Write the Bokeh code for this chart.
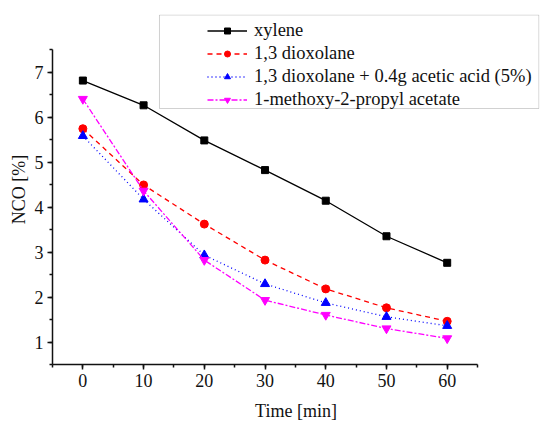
from bokeh.plotting import figure
from bokeh.models import (Range1d, SingleIntervalTicker, Legend, LegendItem, BoxAnnotation)
from bokeh.embed import file_html
from bokeh.resources import INLINE

time = [0, 10, 20, 30, 40, 50, 60]
xylene = [6.81, 6.26, 5.48, 4.82, 4.14, 3.35, 2.76]
dioxolane = [5.74, 4.49, 3.62, 2.82, 2.18, 1.76, 1.46]
dioxolane_acid = [5.58, 4.17, 2.93, 2.29, 1.87, 1.56, 1.36]
mpa = [6.40, 4.36, 2.82, 1.93, 1.60, 1.30, 1.08]
labels = ["xylene", "1,3 dioxolane", "1,3 dioxolane + 0.4g acetic acid (5%)",
          "1-methoxy-2-propyl acetate"]

FONT = "Liberation Serif"

p = figure(width=540, height=424, output_backend="svg", toolbar_location=None,
           x_range=Range1d(-5, 75.2), y_range=Range1d(0.5, 8.278),
           min_border_left=52, min_border_right=1, min_border_top=14, min_border_bottom=60)
p.outline_line_color = None
p.xgrid.visible = False
p.ygrid.visible = False
p.background_fill_color = "white"

p.xaxis.ticker = SingleIntervalTicker(interval=10, num_minor_ticks=2)
p.yaxis.ticker = SingleIntervalTicker(interval=1, num_minor_ticks=2)
p.xaxis.bounds = (-5, 65)
p.yaxis.bounds = (0.5, 7.5)
for ax in (p.xaxis, p.yaxis):
    ax.axis_line_width = 1.5
    ax.axis_line_color = "#111111"
    ax.major_tick_line_color = "#111111"
    ax.minor_tick_line_color = "#111111"
    ax.major_tick_line_width = 1.5
    ax.minor_tick_line_width = 1.5
    ax.major_tick_in = 0
    ax.major_tick_out = 5
    ax.minor_tick_in = 0
    ax.minor_tick_out = 3
    ax.major_label_text_font = FONT
    ax.major_label_text_font_size = "18px"
    ax.major_label_text_color = "#111111"
    ax.axis_label_text_font = FONT
    ax.axis_label_text_font_size = "18px"
    ax.axis_label_text_font_style = "normal"
    ax.axis_label_text_color = "#111111"
p.xaxis.axis_label = "Time [min]"
p.yaxis.axis_label = "NCO [%]"
p.xaxis.major_label_standoff = 4
p.yaxis.major_label_standoff = 4
p.xaxis.axis_label_standoff = 11
p.yaxis.axis_label_standoff = 3

series = [
    (xylene, "black", "solid", "square", 7),
    (dioxolane, "#ff0000", "5 4", "circle", 8),
    (dioxolane_acid, "#0000ff", "1 3", "triangle", 9),
    (mpa, "#ff00ff", "6 2 2 2", "inverted_triangle", 9),
]
items = []
for (vals, col, dash, marker, sz), lab in zip(series, labels):
    l = p.line(time, vals, line_color=col, line_width=1.3, line_dash=dash)
    s = p.scatter(time, vals, marker=marker, size=sz, fill_color=col, line_color=col)
    items.append(LegendItem(label=lab, renderers=[l, s]))

box = BoxAnnotation(left=12.62, right=75.1, top=8.267, bottom=6.189,
                    fill_alpha=0, line_color="#666666", line_width=1)
p.add_layout(box)

legend = Legend(items=items, location=(155, 253), padding=0, margin=0, spacing=0,
                glyph_width=40, glyph_height=15, label_height=23, label_standoff=7,
                border_line_alpha=0, background_fill_alpha=0,
                label_text_font=FONT, label_text_font_size="18.5px",
                label_text_color="#111111")
p.add_layout(legend, "center")

open("out.html", "w").write(file_html(p, INLINE))
